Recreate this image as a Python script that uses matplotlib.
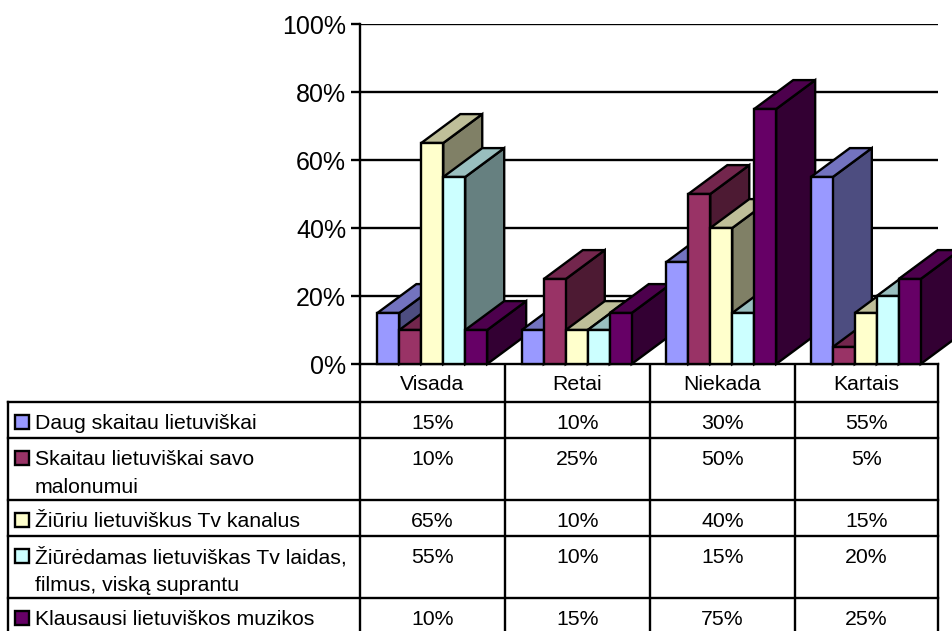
import matplotlib
matplotlib.use("Agg")
import matplotlib.pyplot as plt
from matplotlib.patches import Polygon, Rectangle
from matplotlib.colors import to_rgb

plt.rcParams["font.family"] = ["Liberation Sans", "DejaVu Sans"]

CATEGORIES = ["Visada", "Retai", "Niekada", "Kartais"]
SERIES = [
    "Daug skaitau lietuviškai",
    "Skaitau lietuviškai savo\nmalonumui",
    "Žiūriu lietuviškus Tv kanalus",
    "Žiūrėdamas lietuviškas Tv laidas,\nfilmus, viską suprantu",
    "Klausausi lietuviškos muzikos",
]
DAUG = [15, 10, 30, 55]
SKAITAU = [10, 25, 50, 5]
ZIURIU = [65, 10, 40, 15]
ZIUREDAMAS = [55, 10, 15, 20]
KLAUSAUSI = [10, 15, 75, 25]
VALUES = [DAUG, SKAITAU, ZIURIU, ZIUREDAMAS, KLAUSAUSI]
COLORS = ["#9999FF", "#993366", "#FFFFCC", "#CCFFFF", "#660066"]
YTICKS = [0, 20, 40, 60, 80, 100]

W, H = 953, 631
fig = plt.figure(figsize=(W / 100, H / 100), dpi=100)

# plot area in pixels
PL, PR, PT, PB = 360, 938, 24, 364
LW = 1.7
ax = fig.add_axes([PL / W, (H - PB) / H, (PR - PL) / W, (PB - PT) / H])
ax.set_xlim(0, len(CATEGORIES))
ax.set_ylim(0, 100)
for s in ["top", "right", "bottom"]:
    ax.spines[s].set_visible(False)
ax.spines["left"].set_linewidth(LW)
ax.set_xticks([])
ax.set_yticks(YTICKS)
ax.set_yticklabels([f"{t}%" for t in YTICKS])
ax.tick_params(axis="y", length=6.5, width=LW, pad=3.5, labelsize=18)
ax.yaxis.grid(True, color="black", lw=LW)
ax.set_axisbelow(True)


def shade(c, f):
    r, g, b = to_rgb(c)
    return (r * f, g * f, b * f)


bw = 0.152
off = (1 - bw * len(SERIES)) / 2
dx = 0.27
dy = 8.5
for ci in range(len(CATEGORIES)):
    for si, vals in enumerate(VALUES):
        v = vals[ci]
        x0 = ci + off + si * bw
        col = COLORS[si]
        kw = dict(closed=True, ec="black", lw=LW, clip_on=False, joinstyle="miter", zorder=3)
        side = [(x0 + bw, 0), (x0 + bw + dx, dy), (x0 + bw + dx, v + dy), (x0 + bw, v)]
        top = [(x0, v), (x0 + bw, v), (x0 + bw + dx, v + dy), (x0 + dx, v + dy)]
        front = [(x0, 0), (x0 + bw, 0), (x0 + bw, v), (x0, v)]
        ax.add_patch(Polygon(side, fc=shade(col, 0.5), **kw))
        ax.add_patch(Polygon(top, fc=shade(col, 0.75), **kw))
        ax.add_patch(Polygon(front, fc=col, **kw))

# data table below the plot
tab = fig.add_axes([0, 0, 1, 1], zorder=-1)
tab.set_xlim(0, W)
tab.set_ylim(H, 0)
tab.axis("off")
col_x = [360, 505, 650, 795, 938]
row_y = [402, 438, 500, 536, 598]
TL = 8
FS = 15.3
tab.plot([PL, PR], [PB, PB], color="black", lw=LW)
for x in col_x:
    tab.plot([x, x], [PB, H + 5], color="black", lw=LW)
tab.plot([TL, TL], [row_y[0], H + 5], color="black", lw=LW)
for y in row_y:
    tab.plot([TL, PR], [y, y], color="black", lw=LW)
for ci, name in enumerate(CATEGORIES):
    xc = (col_x[ci] + col_x[ci + 1]) / 2
    tab.text(xc, 390, name, ha="center", va="baseline", fontsize=FS)
for si, name in enumerate(SERIES):
    y0 = row_y[si] + 27
    for li, line in enumerate(name.split("\n")):
        tab.text(35, y0 + li * 28, line, ha="left", va="baseline", fontsize=FS)
    tab.add_patch(Rectangle((15, y0 - 14), 14, 14, fc=COLORS[si], ec="black", lw=LW))
    for ci in range(len(CATEGORIES)):
        xc = (col_x[ci] + col_x[ci + 1]) / 2
        tab.text(xc, y0, f"{VALUES[si][ci]}%", ha="center", va="baseline", fontsize=FS)

fig.savefig("out.png", dpi=100)
